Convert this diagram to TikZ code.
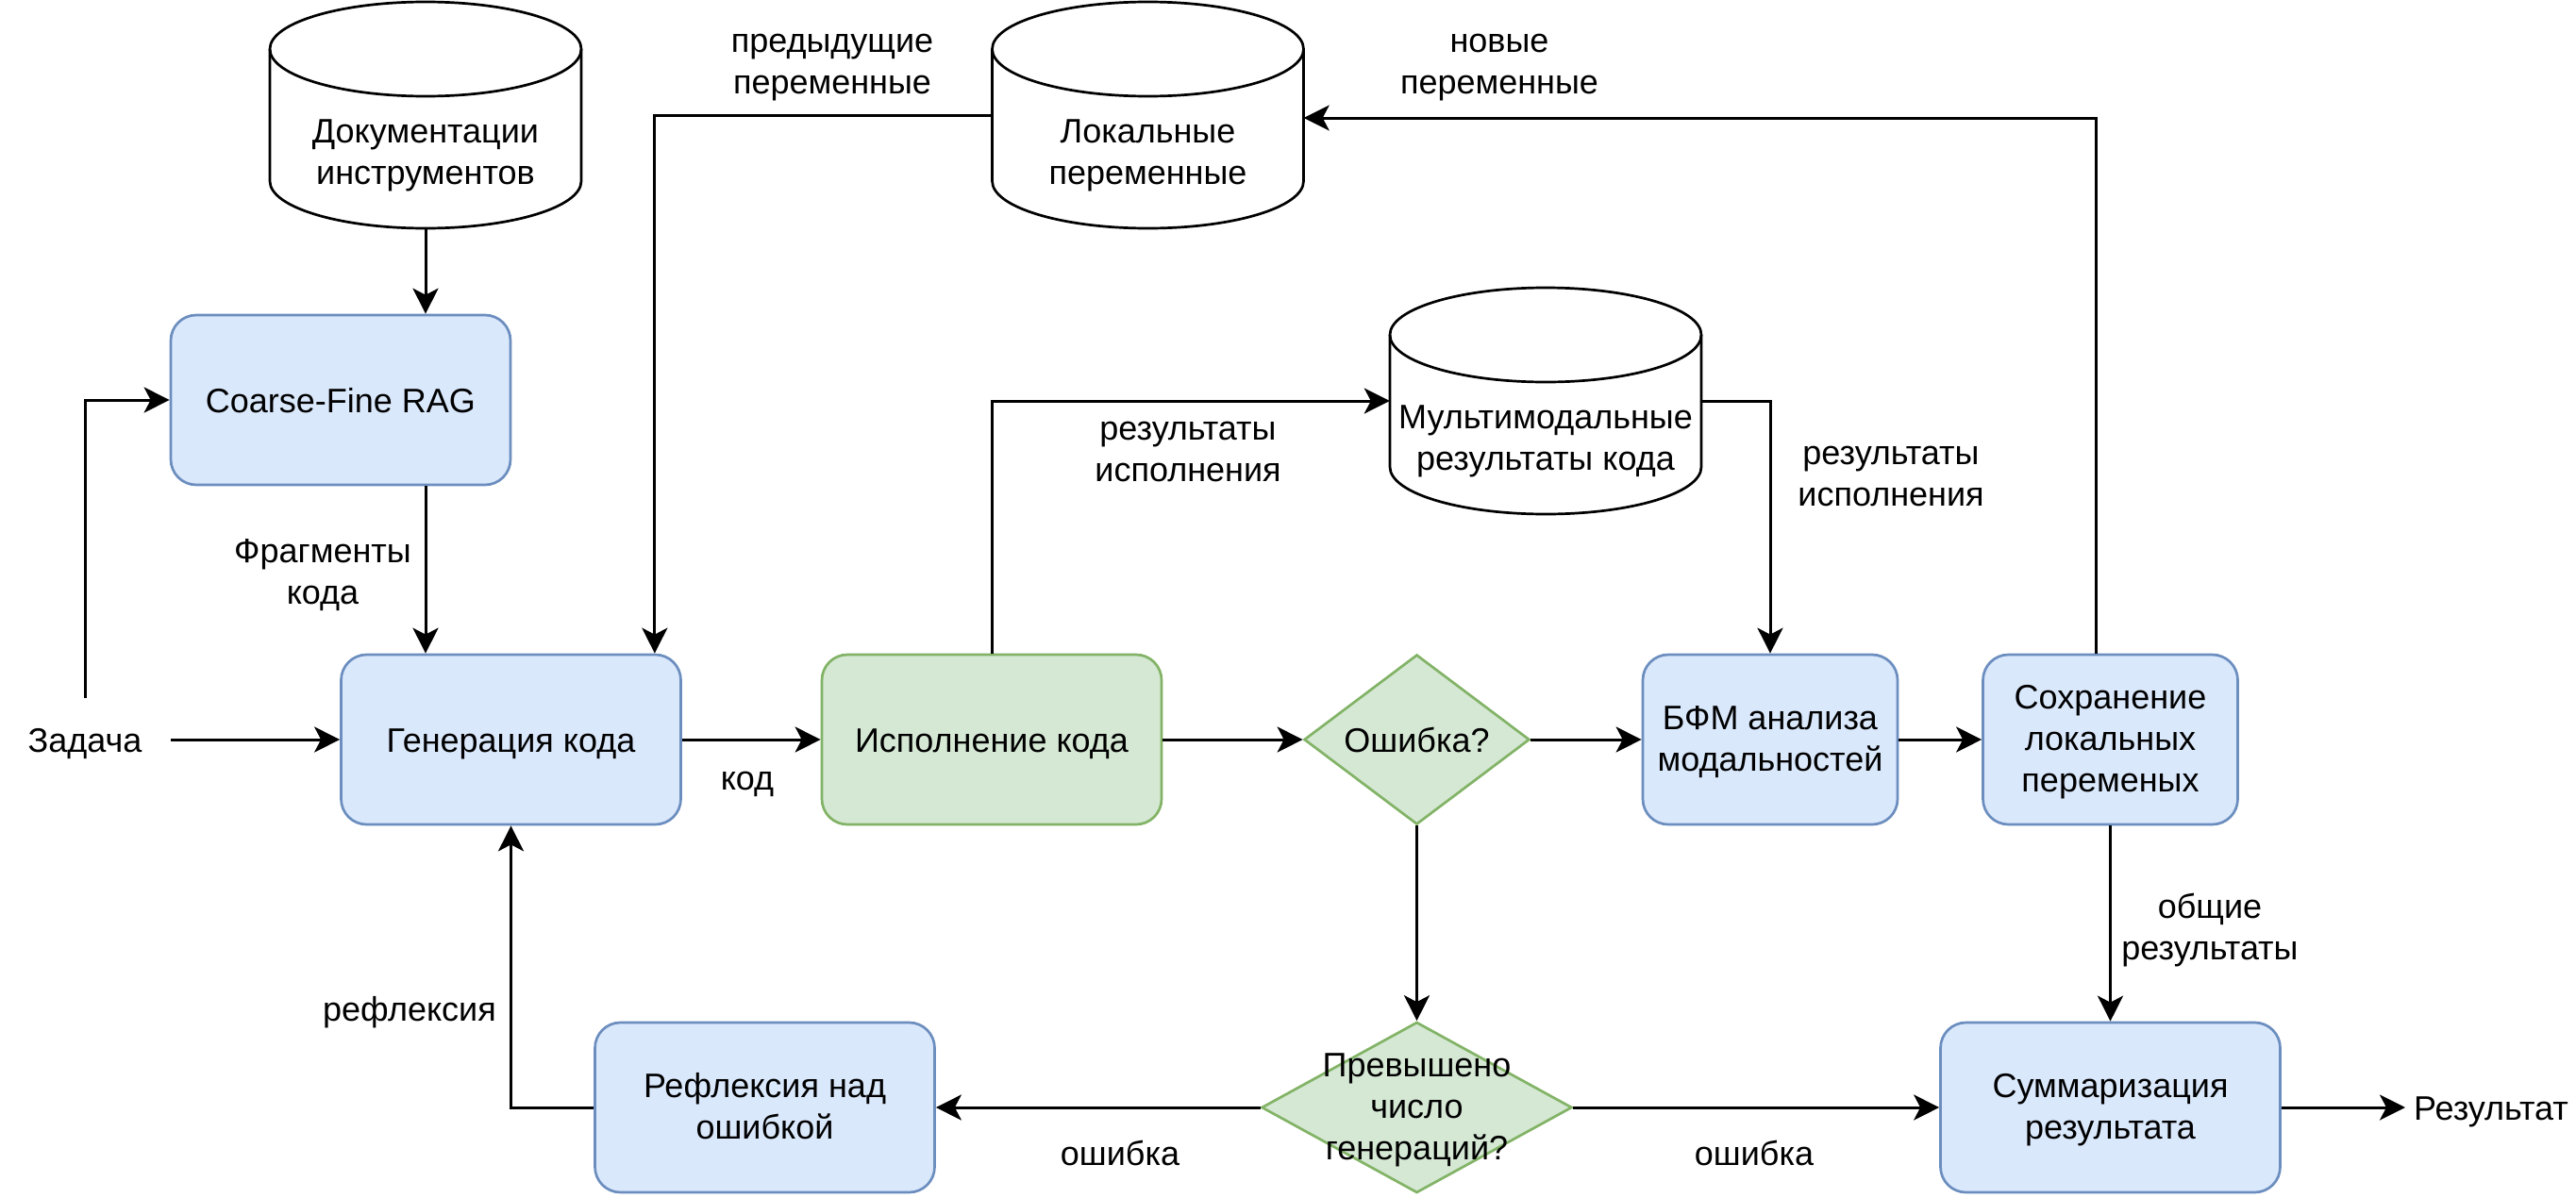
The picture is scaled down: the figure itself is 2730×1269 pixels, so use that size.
\documentclass[tikz,border=0pt]{standalone}
\usepackage{fontspec}
\setmainfont{Liberation Sans}
\usetikzlibrary{arrows.meta,shapes.geometric,calc}
\definecolor{bfill}{HTML}{DAE8FC}
\definecolor{bstroke}{HTML}{6C8EBF}
\definecolor{gfill}{HTML}{D5E8D4}
\definecolor{gstroke}{HTML}{82B366}
\newcommand{\cylpath}[4]{% cx, top, bottom, name
  \draw[line width=2.7pt,fill=white] (#1-165,-#2-50) -- (#1-165,-#3+50)
    arc[start angle=180,end angle=360,x radius=165,y radius=50]
    -- (#1+165,-#2-50)
    arc[start angle=0,end angle=180,x radius=165,y radius=50] -- cycle;
  \draw[line width=2.7pt] (#1-165,-#2-50) arc[start angle=180,end angle=360,x radius=165,y radius=50];
  \node[draw=none,minimum width=330pt,minimum height=#3pt-#2pt,inner sep=0pt] (#4) at (#1,-#2/2-#3/2) {};
}
\begin{document}
\begin{tikzpicture}[x=1pt,y=1pt,
  every node/.style={font=\fontsize{36}{44}\selectfont, align=center, inner sep=0pt,
    text height=36pt, text depth=10pt},
  ml/.style={text height=76pt, text depth=10pt},
  mlthree/.style={text height=120pt, text depth=10pt},
  bluebox/.style={draw=bstroke, fill=bfill, rounded corners=27pt, line width=2.7pt,
    minimum width=360pt, minimum height=180pt},
  narrowbox/.style={bluebox, minimum width=270pt},
  greenbox/.style={bluebox, draw=gstroke, fill=gfill},
  diam/.style={diamond, draw=gstroke, fill=gfill, line width=2.7pt},
  arr/.style={line width=3pt, -{Stealth[length=27pt,width=27pt,inset=7pt]}}
]
\useasboundingbox (0,0) rectangle (2730,-1269);

% cylinders
\cylpath{451}{2}{242}{doc}
\cylpath{1216.5}{2}{242}{local}
\cylpath{1638}{305}{545}{mm}
\node[ml] (doct) at (451,-162) {Документации\\инструментов};
\node[ml] (localt) at (1216.5,-162) {Локальные\\переменные};
\node[ml] (mmt) at (1638,-465) {Мультимодальные\\результаты кода};

% boxes
\node[bluebox] (rag) at (361,-424) {Coarse-Fine RAG};
\node[bluebox] (gen) at (541.5,-784) {Генерация кода};
\node[greenbox] (exec) at (1051,-784) {Исполнение кода};
\node[diam, minimum width=239pt, minimum height=180pt, text height=0pt, text depth=0pt] (err) at (1501.5,-784) {};
\node (errt) at (1501.5,-784) {Ошибка?};
\node[narrowbox, ml] (bfm) at (1876,-784) {БФМ анализа\\модальностей};
\node[narrowbox, mlthree] (save) at (2236.5,-784) {Сохранение\\локальных\\переменых};
\node[diam, minimum width=329pt, minimum height=181pt, text height=0pt, text depth=0pt] (exc) at (1501.5,-1174) {};
\node[mlthree] (exct) at (1501.5,-1174) {Превышено\\число\\генераций?};
\node[bluebox, ml] (refl) at (810.5,-1174) {Рефлексия над\\ошибкой};
\node[bluebox, ml] (summ) at (2236.5,-1174) {Суммаризация\\результата};

% free text
\node (task) at (90,-784) {Задача};
\node[anchor=west] (res) at (2558,-1174) {Результат};
\coordinate (taskup) at (90,-740);
\coordinate (taskright) at (181,-784);

% connectors
\draw[arr] (doc.south) -- (doc.south |- rag.north);
\draw[arr] (taskup) |- (rag.west);
\draw[arr] (taskright) -- (gen.west);
\draw[arr] (rag.south -| doc.south) -- (gen.north -| doc.south);
\node[ml] at (342,-607) {Фрагменты\\кода};
\draw[arr] (local.west) -| ([xshift=-29pt]gen.north east);
\node[ml] at (882,-66) {предыдущие\\переменные};
\draw[arr] (gen.east) -- (exec.west);
\node at (792,-824) {код};
\draw[arr] (exec.north) |- (mm.west);
\node[ml] at (1259,-477) {результаты\\исполнения};
\draw[arr] (mm.east) -| (bfm.north);
\node[ml] at (2004,-503) {результаты\\исполнения};
\draw[arr] (exec.east) -- (err.west);
\draw[arr] (err.east) -- (bfm.west);
\draw[arr] (bfm.east) -- (save.west);
\draw[arr] ([xshift=-15.5pt]save.north) |- ([yshift=-3pt]local.east);
\node[ml] at (1589,-66) {новые\\переменные};
\draw[arr] (save.south) -- (summ.north);
\node[ml] at (2342,-984) {общие\\результаты};
\draw[arr] (err.south) -- (exc.north);
\draw[arr] (exc.west) -- (refl.east);
\node at (1187,-1222) {ошибка};
\draw[arr] (exc.east) -- (summ.west);
\node at (1859,-1222) {ошибка};
\draw[arr] (refl.west) -| (gen.south);
\node at (434,-1069) {рефлексия};
\draw[arr, shorten >=9pt] (summ.east) -- (res.west);
\end{tikzpicture}
\end{document}
